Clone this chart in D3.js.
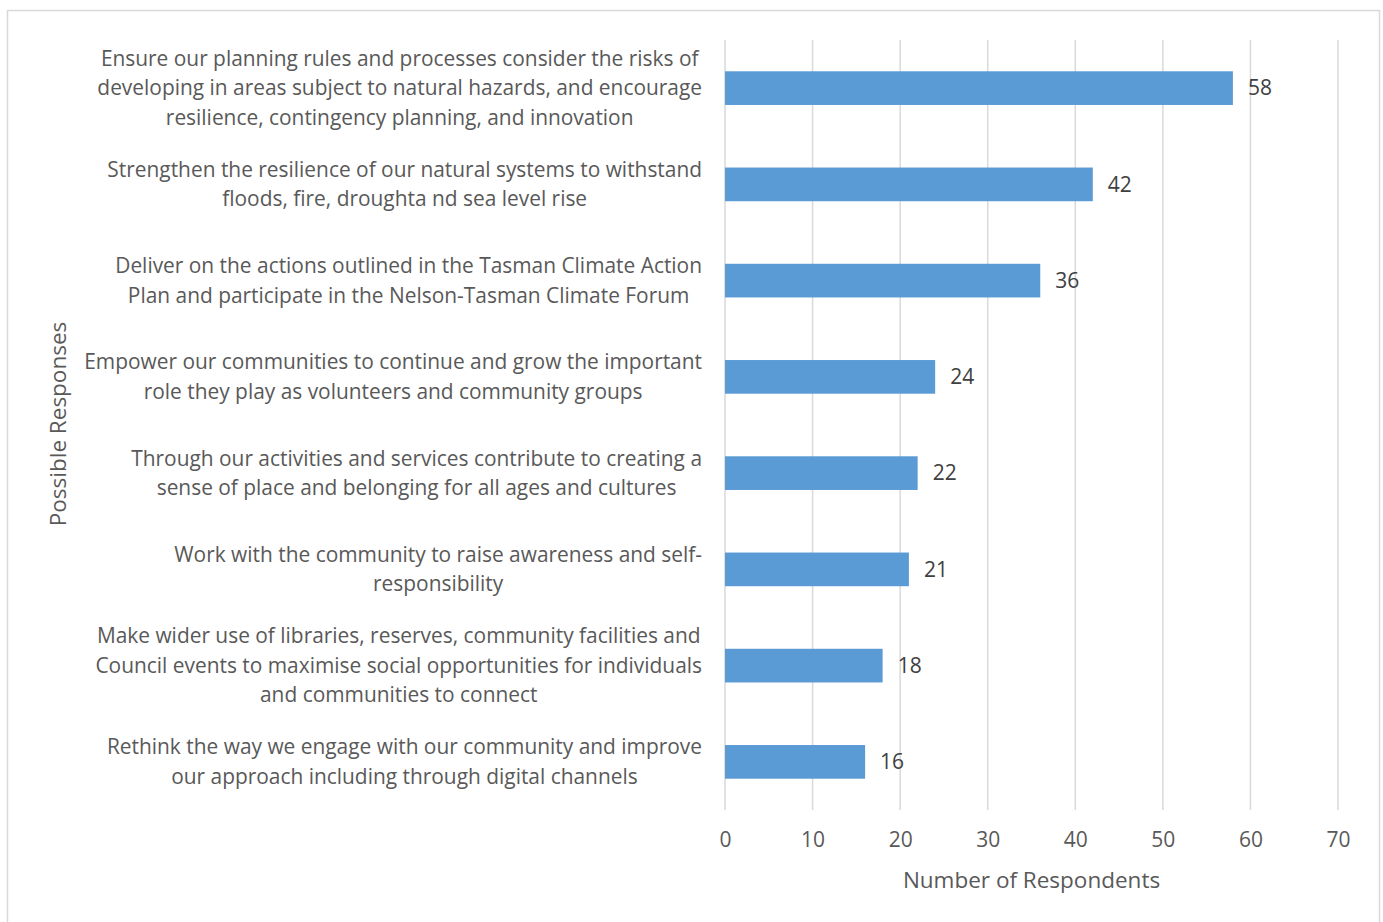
<!DOCTYPE html>
<html><head><meta charset="utf-8">
<script src="https://cdn.jsdelivr.net/npm/d3@7"></script>
<style>body{margin:0;background:#fff;} svg{display:block;}</style>
</head><body>
<script>
const categories = [
  ["Ensure our planning rules and processes consider the risks of", "developing in areas subject to natural hazards, and encourage", "resilience, contingency planning, and innovation"],
  ["Strengthen the resilience of our natural systems to withstand", "floods, fire, droughta nd sea level rise"],
  ["Deliver on the actions outlined in the Tasman Climate Action", "Plan and participate in the Nelson-Tasman Climate Forum"],
  ["Empower our communities to continue and grow the important", "role they play as volunteers and community groups"],
  ["Through our activities and services contribute to creating a", "sense of place and belonging for all ages and cultures"],
  ["Work with the community to raise awareness and self-", "responsibility"],
  ["Make wider use of libraries, reserves, community facilities and", "Council events to maximise social opportunities for individuals", "and communities to connect"],
  ["Rethink the way we engage with our community and improve", "our approach including through digital channels"]
];
const values = [58, 42, 36, 24, 22, 21, 18, 16];
const xTicks = [0, 10, 20, 30, 40, 50, 60, 70];
const xTitle = "Number of Respondents";
const yTitle = "Possible Responses";

const W = 1383, H = 922;
const font = "Open Sans, sans-serif";
const fs = 20.9;
const svg = d3.select("body").append("svg").attr("width", W).attr("height", H);

svg.append("rect").attr("x", 7.5).attr("y", 10.5).attr("width", 1372).attr("height", 930)
  .attr("fill", "#fff").attr("stroke", "#d9d9d9").attr("stroke-width", 1.5);

const x = d3.scaleLinear().domain([0, 70]).range([725, 1338]);
const y = d3.scaleBand().domain(d3.range(categories.length)).range([40, 810]).paddingInner(0.65).paddingOuter(0.325);

// gridlines
svg.append("g").selectAll("line").data(xTicks).join("line")
  .attr("x1", d => x(d)).attr("x2", d => x(d)).attr("y1", 40).attr("y2", 810)
  .attr("stroke", "#d9d9d9").attr("stroke-width", 1.5);

// x axis labels via d3 axis
const xAxis = svg.append("g").attr("transform", "translate(0,840)")
  .call(d3.axisBottom(x).tickValues(xTicks).tickSize(0).tickPadding(0));
xAxis.select(".domain").remove();
xAxis.selectAll("text").attr("font-family", font).attr("font-size", 21).attr("fill", "#595959").attr("dy", "0.35em");

// bars
svg.append("g").selectAll("rect").data(values).join("rect")
  .attr("x", x(0)).attr("y", (d, i) => y(i)).attr("width", d => x(d) - x(0)).attr("height", y.bandwidth())
  .attr("fill", "#5b9bd5");

// value labels
svg.append("g").selectAll("text").data(values).join("text")
  .attr("x", d => x(d) + 15).attr("y", (d, i) => y(i) + y.bandwidth() / 2).attr("dy", "0.35em")
  .attr("font-family", font).attr("font-size", 21).attr("fill", "#404040").text(d => d);

// category labels
const lh = 29.5;
const labelRight = 702;
categories.forEach((lines, i) => {
  const g = svg.append("g");
  const cy = y(i) + y.bandwidth() / 2;
  const texts = lines.map((l, j) => g.append("text")
    .attr("y", cy + (j - (lines.length - 1) / 2) * lh).attr("dy", "0.35em")
    .attr("font-family", font).attr("font-size", fs).attr("fill", "#595959")
    .attr("text-anchor", "middle").text(l));
  const maxW = d3.max(texts, t => t.node().getComputedTextLength());
  texts.forEach(t => t.attr("x", labelRight - maxW / 2));
});

// axis titles
svg.append("text").attr("x", (x(0) + x(70)) / 2).attr("y", 880).attr("dy", "0.35em")
  .attr("text-anchor", "middle").attr("font-family", font).attr("font-size", 22.5).attr("fill", "#595959").text(xTitle);
svg.append("text").attr("transform", `translate(58,424) rotate(-90)`).attr("dy", "0.35em")
  .attr("text-anchor", "middle").attr("font-family", font).attr("font-size", 22.5).attr("fill", "#595959").text(yTitle);
</script>
</body></html>
